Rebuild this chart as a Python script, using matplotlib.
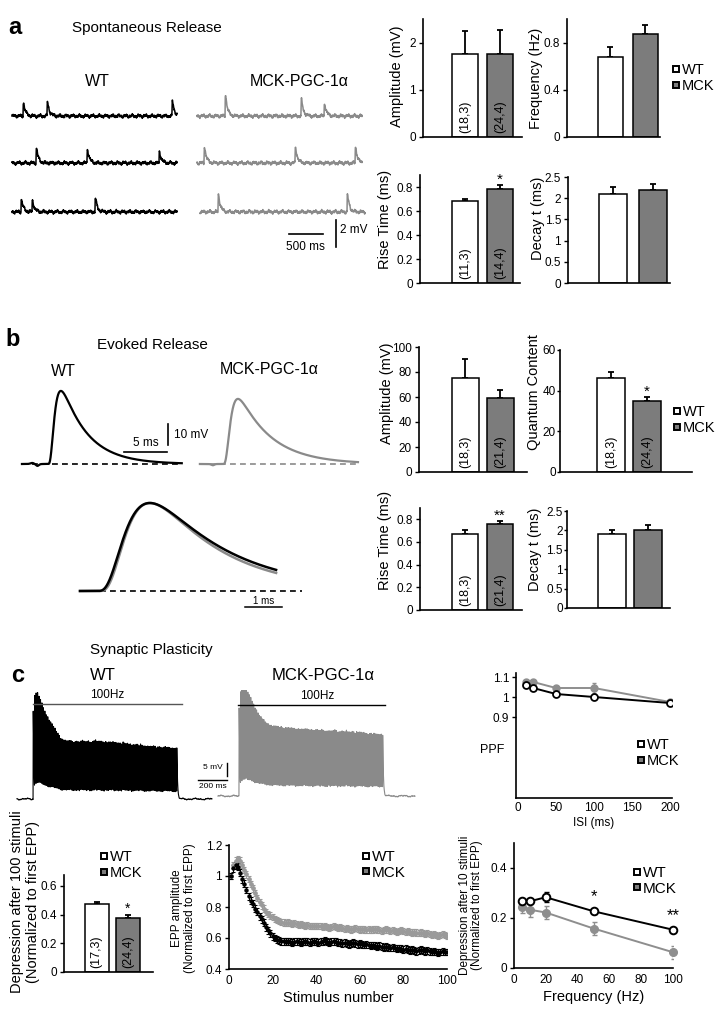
import numpy as np
import matplotlib
matplotlib.use('Agg')
import matplotlib.pyplot as plt
from matplotlib.lines import Line2D
from matplotlib.ticker import FuncFormatter

plt.rcParams['font.family'] = ['Liberation Sans', 'DejaVu Sans']

# ======================= DATA =======================
GROUPS = ['WT', 'MCK']
# a: spontaneous release
SPONT_AMP = [1.75, 1.75];  SPONT_AMP_ERR = [0.50, 0.52];  SPONT_AMP_N = ['(18,3)', '(24,4)']
SPONT_FREQ = [0.68, 0.87]; SPONT_FREQ_ERR = [0.083, 0.08]
SPONT_RISE = [0.68, 0.78]; SPONT_RISE_ERR = [0.02, 0.033]; SPONT_RISE_N = ['(11,3)', '(14,4)']
SPONT_DECAY = [2.09, 2.20]; SPONT_DECAY_ERR = [0.18, 0.14]
# spontaneous trace events (ms from trace start) and amplitudes (mV)
WT_MEPP_T = [[162, 515, 2353], [353, 1103, 2162], [132, 294, 1220]]
WT_MEPP_A = [[1.0, 1.05, 1.1], [1.1, 1.05, 0.85], [0.95, 0.85, 1.0]]
MCK_MEPP_T = [[412, 1529, 1868], [103, 1441, 2324], [265, 2162]]
MCK_MEPP_A = [[1.6, 1.2, 0.95], [1.2, 1.2, 1.2], [1.3, 1.25]]

# b: evoked release
EV_AMP = [75.5, 59];  EV_AMP_ERR = [15, 6.5];   EV_AMP_N = ['(18,3)', '(21,4)']
EV_QC = [46, 35];     EV_QC_ERR = [3.3, 1.7];   EV_QC_N = ['(18,3)', '(24,4)']
EV_RISE = [0.67, 0.76]; EV_RISE_ERR = [0.04, 0.023]; EV_RISE_N = ['(18,3)', '(21,4)']
EV_DECAY = [1.9, 2.0];  EV_DECAY_ERR = [0.1, 0.14]
# example EPP traces: peak (mV), rise tau, decay tau (ms)
EPP_EX_PEAK = [34.8, 31.0]
EPP_EX_TR = [0.45, 0.5]
EPP_EX_TD = [3.0, 3.8]
OVL_TD = [2.05, 1.85]

# c: synaptic plasticity
DEP100 = [0.475, 0.377]; DEP100_ERR = [0.01, 0.022]; DEP100_N = ['(17,3)', '(24,4)']
STIM = list(range(1, 101))
EPP_WT = [1.00, 1.05, 1.07, 1.06, 1.02, 0.98, 0.95, 0.91, 0.87, 0.84,
          0.82, 0.79, 0.77, 0.74, 0.72, 0.70, 0.67, 0.65, 0.63, 0.61,
          0.60, 0.59, 0.585, 0.58, 0.58, 0.575, 0.58, 0.575, 0.57, 0.575,
          0.58, 0.575, 0.57, 0.575, 0.58, 0.575, 0.57, 0.575, 0.58, 0.575,
          0.57, 0.575, 0.58, 0.585, 0.575, 0.57, 0.575, 0.58, 0.575, 0.57,
          0.57, 0.565, 0.57, 0.565, 0.56, 0.565, 0.57, 0.565, 0.56, 0.565,
          0.56, 0.555, 0.56, 0.555, 0.55, 0.555, 0.55, 0.545, 0.55, 0.545,
          0.54, 0.545, 0.54, 0.535, 0.54, 0.535, 0.53, 0.535, 0.53, 0.525,
          0.53, 0.525, 0.52, 0.525, 0.52, 0.515, 0.52, 0.525, 0.52, 0.515,
          0.52, 0.515, 0.51, 0.515, 0.51, 0.505, 0.51, 0.515, 0.51, 0.51]
EPP_MCK = [1.00, 1.07, 1.10, 1.11, 1.10, 1.07, 1.04, 1.01, 0.98, 0.95,
           0.92, 0.89, 0.86, 0.83, 0.81, 0.79, 0.77, 0.755, 0.745, 0.735,
           0.725, 0.715, 0.71, 0.705, 0.70, 0.695, 0.70, 0.695, 0.69, 0.695,
           0.69, 0.685, 0.69, 0.685, 0.68, 0.685, 0.68, 0.675, 0.68, 0.675,
           0.68, 0.675, 0.67, 0.675, 0.67, 0.665, 0.67, 0.675, 0.67, 0.665,
           0.67, 0.665, 0.66, 0.665, 0.66, 0.655, 0.66, 0.665, 0.66, 0.655,
           0.66, 0.655, 0.65, 0.655, 0.65, 0.655, 0.66, 0.655, 0.65, 0.645,
           0.65, 0.655, 0.65, 0.645, 0.65, 0.645, 0.64, 0.645, 0.65, 0.645,
           0.64, 0.645, 0.64, 0.635, 0.64, 0.635, 0.63, 0.635, 0.63, 0.625,
           0.63, 0.625, 0.62, 0.625, 0.62, 0.615, 0.62, 0.625, 0.62, 0.615]
EPP_ERR_WT = 0.022
EPP_ERR_MCK = 0.02
TRAIN_A0 = [34.0, 33.8]  # first EPP in train (mV)

ISI = [10, 20, 50, 100, 200]
PPF_WT = [1.06, 1.045, 1.015, 1.0, 0.97]
PPF_MCK = [1.075, 1.075, 1.045, 1.045, 0.975]
PPF_WT_ERR = [0.01, 0.01, 0.008, 0.008, 0.008]
PPF_MCK_ERR = [0.012, 0.01, 0.01, 0.025, 0.01]

FREQ = [5, 10, 20, 50, 100]
DEP10_WT = [0.27, 0.267, 0.283, 0.227, 0.153]
DEP10_MCK = [0.245, 0.233, 0.222, 0.158, 0.063]
DEP10_WT_ERR = [0.008, 0.008, 0.02, 0.01, 0.008]
DEP10_MCK_ERR = [0.025, 0.03, 0.025, 0.025, 0.025]

# ======================= FIGURE =======================
W, H = 723, 1017
fig = plt.figure(figsize=(W / 100, H / 100), dpi=100)
GRAY_BAR = '#7c7c7c'
GRAY_TR = '#8a8a8a'
GRAY_PT = '#8e8e8e'
fmt = FuncFormatter(lambda v, p: '{:g}'.format(round(v, 3)))


def px_axes(l, t, r, b):
    return fig.add_axes([l / W, 1 - b / H, (r - l) / W, (b - t) / H])


def ftext(x, y, s, **kw):
    kw.setdefault('ha', 'center')
    kw.setdefault('va', 'center')
    fig.text(x / W, 1 - y / H, s, **kw)


def style_axes(ax, fs=8.5, pad=2, length=3):
    for s in ['top', 'right']:
        ax.spines[s].set_visible(False)
    for s in ['left', 'bottom']:
        ax.spines[s].set_linewidth(1.2)
    ax.tick_params(axis='y', direction='out', length=length, width=1, labelsize=fs, pad=pad)
    ax.yaxis.set_major_formatter(fmt)


def bar_panel(box, centers, width, vals, errs, ylim, yticks, nlabels=None, star=None, star_fs=11,
              pad=2, length=3):
    l, t, r, b = box
    ax = px_axes(l, t, r, b)
    unit = centers[1] - centers[0]
    ax.set_xlim(-(centers[0] - l) / unit, (r - centers[0]) / unit)
    xs = np.arange(len(vals))
    ax.bar(xs, vals, width=width / unit, color=['white', GRAY_BAR], edgecolor='black', linewidth=1.1, zorder=2)
    ax.errorbar(xs, vals, yerr=[np.zeros(len(vals)), errs], fmt='none', ecolor='black',
                elinewidth=1.3, capsize=2.5, capthick=1.3, zorder=1)
    ax.set_ylim(*ylim)
    ax.set_yticks(yticks)
    style_axes(ax, pad=pad, length=length)
    ax.tick_params(axis='x', length=0, labelbottom=False)
    if nlabels:
        for x, s in zip(xs, nlabels):
            ax.annotate(s, (x, 0), xytext=(0, 3), textcoords='offset points', rotation=90,
                        ha='center', va='bottom', fontsize=9, zorder=3)
    if star:
        ax.annotate(star, (1, vals[1] + errs[1]), xytext=(0, -1), textcoords='offset points',
                    ha='center', va='bottom', fontsize=star_fs)
    return ax


def sq_legend(x, y, fs=10.5, ms=5):
    hs = [Line2D([], [], ls='none', marker='s', ms=ms, mfc='white', mec='black', mew=1.4),
          Line2D([], [], ls='none', marker='s', ms=ms, mfc=GRAY_BAR, mec='black', mew=1.4)]
    fig.legend(hs, GROUPS, loc='upper left', bbox_to_anchor=(x / W, 1 - y / H), frameon=False,
               fontsize=fs, handlelength=0.55, handletextpad=0.12, borderpad=0, borderaxespad=0,
               labelspacing=0.12)


def epsp(t, onset, amp, tr, td, p=1):
    s = np.clip(t - onset, 0, None)
    ss = np.linspace(0, 12 * td, 6000)
    kk = (1 - np.exp(-ss / tr)) ** p * np.exp(-ss / td)
    return amp * (1 - np.exp(-s / tr)) ** p * np.exp(-s / td) / kk.max()


def ripple(t, ph, sc):
    return sc * (np.sin(2 * np.pi * t / 97 + ph) * 0.5 + np.sin(2 * np.pi * t / 41 + 2.1 * ph) * 0.35
                 + np.sin(2 * np.pi * t / 17.3 + 3.7 * ph) * 0.3 + np.sin(2 * np.pi * t / 7.1 + 5.3 * ph) * 0.25)


# ======================= PANEL a =======================
ftext(15, 28, 'a', fontsize=17, fontweight='bold')
ftext(72, 28, 'Spontaneous Release', fontsize=11, ha='left')
ftext(97, 82, 'WT', fontsize=11.5)
ftext(299, 82, 'MCK-PGC-1α', fontsize=11.5)

# trace axes: 0.068 px per ms, 13.5 px per mV, row1 baseline at y=116 px
pxms, pxmv = 0.068, 13.5
axa = px_axes(10, 95, 370, 255)
axa.set_xlim(0, 360 / pxms)
axa.set_ylim(-(255 - 116) / pxmv, (116 - 95) / pxmv)
axa.axis('off')
row_off = [0.0, -3.48, -7.1]
trace_len = 2430
for i in range(3):
    for grp, evt, amps, start, col in [
            ('WT', WT_MEPP_T[i], WT_MEPP_A[i], 29, 'black'),
            ('MCK', MCK_MEPP_T[i], MCK_MEPP_A[i], 2750 if i < 2 else 2794, GRAY_TR)]:
        t = np.arange(0, trace_len, 2.0)
        v = ripple(t, i * 1.3 + (0 if grp == 'WT' else 2.2), 0.13)
        for te, a in zip(evt, amps):
            v = v + epsp(t, te, a, 3.0, 28.0)
        axa.plot(t + start, v + row_off[i], color=col, lw=1.1)
# scale bars
axa.plot([4103, 4603], [-8.74, -8.74], color='black', lw=1.2)
axa.text(4338, -9.7, '500 ms', ha='center', va='center', fontsize=8.5)
axa.plot([4794, 4794], [-9.7, -7.7], color='black', lw=1.2)
axa.text(4853, -8.44, '2 mV', ha='left', va='center', fontsize=8.5)

# bar charts a
bar_panel((423, 19, 522, 137), (465, 500), 26, SPONT_AMP, SPONT_AMP_ERR, (0, 2.5), [0, 1, 2], SPONT_AMP_N)
ftext(397, 76, 'Amplitude (mV)', fontsize=10.5, rotation=90)
bar_panel((567, 19, 660, 137), (610, 645), 25, SPONT_FREQ, SPONT_FREQ_ERR, (0, 1.0), [0, 0.4, 0.8])
ftext(536, 78, 'Frequency (Hz)', fontsize=10.5, rotation=90)
sq_legend(672, 63)
bar_panel((420, 175, 520, 283), (465, 500), 26, SPONT_RISE, SPONT_RISE_ERR, (0, 0.9),
          [0, 0.2, 0.4, 0.6, 0.8], SPONT_RISE_N, star='*')
ftext(385, 219, 'Rise Time (ms)', fontsize=10.5, rotation=90)
bar_panel((568, 177, 670, 283), (613, 653), 28, SPONT_DECAY, SPONT_DECAY_ERR, (0, 2.5),
          [0, 0.5, 1, 1.5, 2, 2.5])
ftext(538, 218, 'Decay t (ms)', fontsize=10.5, rotation=90)

# ======================= PANEL b =======================
ftext(13, 340, 'b', fontsize=17, fontweight='bold')
ftext(97, 345, 'Evoked Release', fontsize=11, ha='left')
ftext(63, 372, 'WT', fontsize=11.5)
ftext(269, 370, 'MCK-PGC-1α', fontsize=11.5)

pxms_b, pxmv_b = 8.6, 2.1
axb = px_axes(15, 380, 365, 478)
axb.set_xlim(0, 350 / pxms_b)
axb.set_ylim(-(478 - 464) / pxmv_b, (464 - 380) / pxmv_b)
axb.axis('off')
tb = np.arange(0.81, 19.4, 0.02)
vb = epsp(tb, 3.84, EPP_EX_PEAK[0], EPP_EX_TR[0], EPP_EX_TD[0], 4) \
    - 0.9 * np.exp(-((tb - 2.6) / 0.25) ** 2) + 0.5 * np.exp(-((tb - 2.0) / 0.3) ** 2)
axb.plot([0.81, 19.4], [0, 0], color='black', lw=1.2, ls=(0, (3.5, 2.5)))
axb.plot(tb, vb, color='black', lw=1.6)
tm = np.arange(21.5, 39.9, 0.02)
vm = epsp(tm, 24.2, EPP_EX_PEAK[1], EPP_EX_TR[1], EPP_EX_TD[1], 4) \
    - 0.6 * np.exp(-((tm - 23.0) / 0.25) ** 2)
axb.plot([21.5, 39.9], [0, 0], color=GRAY_TR, lw=1.2, ls=(0, (3.5, 2.5)))
axb.plot(tm, vm, color=GRAY_TR, lw=1.6)
axb.plot([12.7, 17.7], [5.7, 5.7], color='black', lw=1.2)
axb.text(15.2, 7.2, '5 ms', ha='center', va='bottom', fontsize=8.5)
axb.plot([17.8, 17.8], [9.0, 19.0], color='black', lw=1.2)
axb.text(18.5, 14.0, '10 mV', ha='left', va='center', fontsize=8.5)

# overlay
axo = px_axes(70, 490, 310, 615)
axo.set_xlim(0, 240 / 37)
axo.set_ylim(-(615 - 591) / 88, (591 - 490) / 88)
axo.axis('off')
axo.plot([0.27, 6.27], [0, 0], color='black', lw=1.2, ls=(0, (3.5, 2.5)))
to = np.arange(0.27, 5.57, 0.005)
axo.plot(to, epsp(to, 0.78, 1.0, 0.5, OVL_TD[1], 4), color=GRAY_TR, lw=1.8)
axo.plot(to, epsp(to, 0.73, 1.0, 0.5, OVL_TD[0], 4), color='black', lw=1.8)
axo.plot([4.73, 5.73], [-0.182, -0.182], color='black', lw=1.1)
axo.text(5.23, -0.11, '1 ms', ha='center', va='center', fontsize=7)

# bar charts b
bar_panel((419, 347, 527, 472), (465, 500), 27, EV_AMP, EV_AMP_ERR, (0, 100),
          [0, 20, 40, 60, 80, 100], EV_AMP_N)
ftext(387, 393, 'Amplitude (mV)', fontsize=10.5, rotation=90)
bar_panel((560, 350, 692, 472), (611, 647), 28, EV_QC, EV_QC_ERR, (0, 60), [0, 20, 40, 60], EV_QC_N,
          star='*', pad=1, length=2)
ftext(534, 392, 'Quantum Content', fontsize=10.5, rotation=90)
sq_legend(673, 405)
bar_panel((420, 508, 522, 610), (465, 500), 26, EV_RISE, EV_RISE_ERR, (0, 0.9),
          [0, 0.2, 0.4, 0.6, 0.8], EV_RISE_N, star='**')
ftext(385, 540, 'Rise Time (ms)', fontsize=10.5, rotation=90)
bar_panel((567, 511, 670, 608), (612, 648), 28, EV_DECAY, EV_DECAY_ERR, (0, 2.5),
          [0, 0.5, 1, 1.5, 2, 2.5], pad=1, length=2)
ftext(535, 549, 'Decay t (ms)', fontsize=10.5, rotation=90)

# ======================= PANEL c =======================
ftext(90, 650, 'Synaptic Plasticity', fontsize=11, ha='left')
ftext(18, 675, 'c', fontsize=17, fontweight='bold')
ftext(103, 675, 'WT', fontsize=12)
ftext(323, 675, 'MCK-PGC-1α', fontsize=12)

pxms_c, pxmv_c = 0.145, 2.6
axc = px_axes(10, 690, 425, 812)
axc.set_xlim(0, 415 / pxms_c)
axc.set_ylim(-(812 - 799) / pxmv_c, (799 - 690) / pxmv_c)
axc.axis('off')
for epp, a0, t_start, t_on, t_end, base, col, ph in [
        (EPP_WT, TRAIN_A0[0], 48, 159, 1393, 0.0, 'black', 0.4),
        (EPP_MCK, TRAIN_A0[1], 1434, 1579, 2793, 1.15, GRAY_TR, 1.9)]:
    t = np.arange(t_start, t_end, 0.2)
    v = base + ripple(t, ph, 0.35)
    for k, amp in enumerate(epp):
        v = v + epsp(t, t_on + 10 * k, a0 * amp, 0.4, 4.5, 2)
    axc.plot(t, v, color=col, lw=0.8)
axc.plot([159, 1186], [36.5, 36.5], color='#555555', lw=1.0)
axc.text(669, 37.6, '100Hz', ha='center', va='bottom', fontsize=8.5)
axc.plot([1572, 2586], [36.3, 36.3], color='black', lw=1.0)
axc.text(2117, 37.4, '100Hz', ha='center', va='bottom', fontsize=8.5)
axc.plot([1497, 1497], [8.85, 13.85], color='black', lw=1.0)
axc.text(1470, 12.0, '5 mV', ha='right', va='center', fontsize=6)
axc.plot([1297, 1497], [7.3, 7.3], color='black', lw=1.0)
axc.text(1397, 5.0, '200 ms', ha='center', va='center', fontsize=6)

# PPF
axp = px_axes(516, 673, 672, 798)
axp.plot(ISI, PPF_MCK, color=GRAY_PT, lw=1.4, marker='o', ms=5, mfc=GRAY_PT, mec=GRAY_PT, zorder=2)
axp.errorbar(ISI, PPF_MCK, yerr=PPF_MCK_ERR, fmt='none', ecolor=GRAY_PT, elinewidth=1, capsize=1.5, zorder=1)
axp.plot(ISI, PPF_WT, color='black', lw=1.4, marker='o', ms=5, mfc='white', mec='black', mew=1.3, zorder=3)
axp.errorbar(ISI, PPF_WT, yerr=PPF_WT_ERR, fmt='none', ecolor='black', elinewidth=1, capsize=1.5, zorder=1)
axp.set_xlim(-2 / 0.76, 200 + 2 / 0.76)
axp.set_ylim(0.495, 1.12)
axp.set_yticks([0.9, 1.0, 1.1])
axp.set_xticks([0, 50, 100, 150, 200])
style_axes(axp)
axp.tick_params(axis='x', length=0, labelsize=8.5, pad=3)
axp.set_xlabel('ISI (ms)', fontsize=8.5, labelpad=2)
ftext(492, 750, 'PPF', fontsize=9)
sq_legend(637, 738)

# Depression after 100 stimuli
bar_panel((64, 875, 153, 972), (96.5, 128), 24, DEP100, DEP100_ERR, (0, 0.675), [0, 0.2, 0.4, 0.6],
          DEP100_N, star='*', star_fs=10)
ftext(25, 902, 'Depression after 100 stimuli\n(Normalized to first EPP)', fontsize=10.5,
      rotation=90, linespacing=1.1)
sq_legend(100, 850)

# EPP amplitude vs stimulus
axe = px_axes(229, 845, 447, 969)
axe.errorbar(STIM, EPP_MCK, yerr=EPP_ERR_MCK, fmt='o', ms=2.4, color='#9a9a9a', mfc='#9a9a9a',
             mec='#9a9a9a', elinewidth=0.8, capsize=1.3, capthick=0.8)
axe.errorbar(STIM, EPP_WT, yerr=EPP_ERR_WT, fmt='o', ms=2.2, color='black', mfc='black',
             mec='black', elinewidth=0.8, capsize=1.3, capthick=0.8)
axe.set_xlim(0, 100)
axe.set_ylim(0.4, 1.2)
axe.set_yticks([0.4, 0.6, 0.8, 1.0, 1.2])
axe.set_xticks([0, 20, 40, 60, 80, 100])
style_axes(axe)
axe.tick_params(axis='x', length=0, labelsize=8.5, pad=4)
axe.set_xlabel('Stimulus number', fontsize=10.5, labelpad=3)
ftext(183.5, 908, 'EPP amplitude\n(Normalized to first EPP)', fontsize=8.5, rotation=90, linespacing=1.1)
sq_legend(362, 850, fs=11)

# Depression after 10 stimuli vs frequency
axf = px_axes(514, 843, 673, 968)
axf.errorbar(FREQ, DEP10_MCK, yerr=DEP10_MCK_ERR, fmt='none', ecolor=GRAY_PT, elinewidth=1, capsize=1.8, zorder=1)
axf.plot(FREQ, DEP10_MCK, color=GRAY_PT, lw=1.4, marker='o', ms=5.5, mfc=GRAY_PT, mec=GRAY_PT, zorder=2,
         clip_on=False)
axf.errorbar(FREQ, DEP10_WT, yerr=DEP10_WT_ERR, fmt='none', ecolor='black', elinewidth=1, capsize=1.8, zorder=1)
axf.plot(FREQ, DEP10_WT, color='black', lw=1.4, marker='o', ms=5.5, mfc='white', mec='black', mew=1.4,
         zorder=3, clip_on=False)
axf.set_xlim(0, 100)
axf.set_ylim(0, 0.5)
axf.set_yticks([0, 0.2, 0.4])
axf.set_xticks([0, 20, 40, 60, 80, 100])
style_axes(axf)
axf.tick_params(axis='x', length=0, labelsize=8.5, pad=4)
axf.set_xlabel('Frequency (Hz)', fontsize=10.5, labelpad=3)
axf.text(50, 0.287, '*', ha='center', va='center', fontsize=12)
axf.text(100, 0.21, '**', ha='center', va='center', fontsize=12)
ftext(471, 905, 'Depression after 10 stimuli\n(Normalized to first EPP)', fontsize=8.5, rotation=90,
      linespacing=1.1)
sq_legend(633, 866, fs=11)

fig.savefig('out.png', dpi=100, facecolor='white')
